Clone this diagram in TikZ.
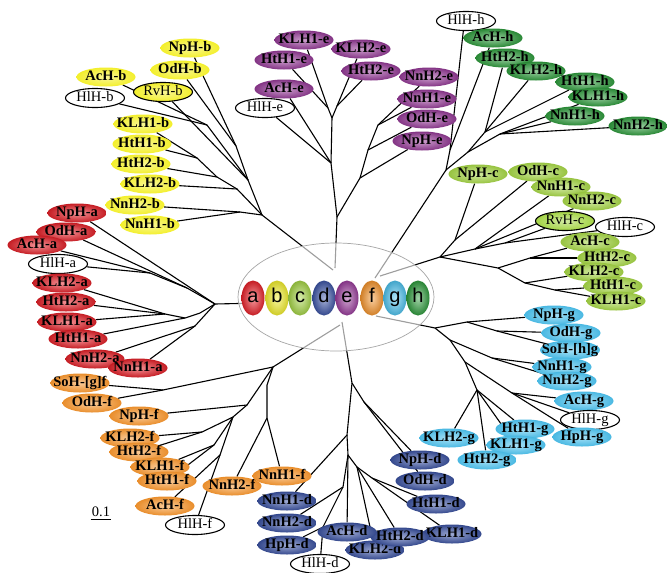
\documentclass[tikz,border=0pt]{standalone}
\usepackage{fontspec}
\setmainfont{Liberation Serif}
\newfontfamily\ballfont{Liberation Sans}
\usetikzlibrary{shapes.geometric}
\pgfdeclarelayer{base}
\pgfdeclarelayer{edges}
\pgfdeclarelayer{mid}
\pgfsetlayers{base,edges,mid,main}
\definecolor{ca}{HTML}{E8222A}
\definecolor{cb}{HTML}{F3EF2C}
\definecolor{cc}{HTML}{A4D445}
\definecolor{cd}{HTML}{3D55A6}
\definecolor{ce}{HTML}{9A3D9C}
\definecolor{cf}{HTML}{F5952E}
\definecolor{cg}{HTML}{4DC2EE}
\definecolor{ch}{HTML}{2F9B3D}
\tikzset{
 lf/.style={shape=ellipse, inner xsep=-7pt, inner ysep=0pt, minimum width=59pt, minimum height=19pt, text height=9.5pt, text depth=2.5pt, font=\fontsize{14.5}{15}\selectfont\bfseries},
 tone/.style 2 args={lf, inner color=#1!50!white, outer color=#1!#2!black},
 la/.style={tone={ca}{85}},
 lb/.style={tone={cb}{100}},
 lc/.style={tone={cc}{92}},
 ld/.style={tone={cd}{85}},
 le/.style={tone={ce}{85}},
 lfo/.style={tone={cf}{95}},
 lg/.style={tone={cg}{95}},
 lh/.style={tone={ch}{88}},
 hl/.style={lf, draw=black, line width=1.1pt, fill=white, font=\fontsize{14.5}{15}\selectfont},
 rv/.style={lf, draw=black, line width=1.1pt, inner color=#1!50!white, outer color=#1, font=\fontsize{14.5}{15}\selectfont},
 br/.style={line width=1.1pt, black},
 ball/.style={shape=ellipse, minimum width=23pt, minimum height=35pt, inner sep=0pt, text height=12pt, text depth=3pt, inner color=#1!45!white, outer color=#1!85!black, font=\ballfont\fontsize{20}{20}\selectfont},
}
\begin{document}
\begin{tikzpicture}[x=1pt,y=-1pt]
\useasboundingbox (0,0) rectangle (667,573);
\begin{pgfonlayer}{base}
\fill[white] (0,0) rectangle (667,573);
\end{pgfonlayer}
% ---------- leaves ----------
% a
\node[la] (NpHa) at (77,213) {NpH-a};
\node[la] (OdHa) at (66,232) {OdH-a};
\node[la] (AcHa) at (37,245) {AcH-a};
\node[hl] (HlHa) at (58,264) {HlH-a};
\node[la] (KLH2a) at (62,283) {KLH2-a};
\node[la] (HtH2a) at (66,302) {HtH2-a};
\node[la] (KLH1a) at (67,322) {KLH1-a};
\node[la] (HtH1a) at (78,339) {HtH1-a};
\node[la] (NnH2a) at (95,359) {NnH2-a};
\node[la] (NnH1a) at (138,368) {NnH1-a};
% b
\node[lb] (NpHb) at (190,48) {NpH-b};
\node[lb] (OdHb) at (180,70) {OdH-b};
\node[lb] (AcHb) at (106,77) {AcH-b};
\node[hl] (HlHb) at (95,98) {HlH-b};
\node[rv=cb] (RvHb) at (163,92) {RvH-b};
\node[lb] (KLH1b) at (143,124) {KLH1-b};
\node[lb] (HtH1b) at (142,144) {HtH1-b};
\node[lb] (HtH2b) at (141,164) {HtH2-b};
\node[lb] (KLH2b) at (150,184) {KLH2-b};
\node[lb] (NnH2b) at (135,205) {NnH2-b};
\node[lb] (NnH1b) at (150,225) {NnH1-b};
% e
\node[le] (KLH1e) at (304,40) {KLH1-e};
\node[le] (HtH1e) at (284,60) {HtH1-e};
\node[le] (KLH2e) at (361,49) {KLH2-e};
\node[le] (HtH2e) at (371,71) {HtH2-e};
\node[le] (AcHe) at (284,89) {AcH-e};
\node[hl] (HlHe) at (265,108) {HlH-e};
\node[le] (NnH2e) at (429,77) {NnH2-e};
\node[le] (NnH1e) at (427,99) {NnH1-e};
\node[le] (OdHe) at (427,119) {OdH-e};
\node[le] (NpHe) at (422,141) {NpH-e};
% h
\node[hl] (HlHh) at (466,21) {HlH-h};
\node[lh] (AcHh) at (493,38) {AcH-h};
\node[lh] (HtH2h) at (505,58) {HtH2-h};
\node[lh] (KLH2h) at (536,71) {KLH2-h};
\node[lh] (HtH1h) at (585,82) {HtH1-h};
\node[lh] (KLH1h) at (598,97) {KLH1-h};
\node[lh] (NnH1h) at (575,116) {NnH1-h};
\node[lh] (NnH2h) at (638,126) {NnH2-h};
% c
\node[lc] (NpHc) at (478,174) {NpH-c};
\node[lc] (OdHc) at (538,172) {OdH-c};
\node[lc] (NnH1c) at (561,187) {NnH1-c};
\node[lc] (NnH2c) at (592,201) {NnH2-c};
\node[rv=cc] (RvHc) at (565,221) {RvH-c};
\node[hl] (HlHc) at (625,227) {HlH-c};
\node[lc] (AcHc) at (590,242) {AcH-c};
\node[lc] (HtH2c) at (607,258) {HtH2-c};
\node[lc] (KLH2c) at (594,272) {KLH2-c};
\node[lc] (HtH1c) at (613,286) {HtH1-c};
\node[lc] (KLH1c) at (616,301) {KLH1-c};
% g
\node[lg] (NpHg) at (554,315) {NpH-g};
\node[lg] (OdHg) at (571,333) {OdH-g};
\node[lg] (SoHg) at (570,350) {SoH-[h]g};
\node[lg] (NnH1g) at (562,367) {NnH1-g};
\node[lg] (NnH2g) at (567,381) {NnH2-g};
\node[lg] (AcHg) at (584,401) {AcH-g};
\node[hl] (HlHg) at (590,420) {HlH-g};
\node[lg] (HpHg) at (582,437) {HpH-g};
\node[lg] (HtH1g) at (525,429) {HtH1-g};
\node[lg] (KLH1g) at (516,445) {KLH1-g};
\node[lg] (KLH2g) at (449,438) {KLH2-g};
\node[lg] (HtH2g) at (487,460) {HtH2-g};
% d
\node[ld] (NpHd) at (420,460) {NpH-d};
\node[ld] (OdHd) at (425,481) {OdH-d};
\node[ld] (HtH1d) at (436,504) {HtH1-d};
\node[ld] (KLH1d) at (452,534) {KLH1-d};
\node[ld] (KLH2d) at (375,550) {KLH2-d};
\node[ld] (HtH2d) at (400,537) {HtH2-d};
\node[ld] (AcHd) at (347,532) {AcH-d};
\node[hl] (HlHd) at (320,564) {HlH-d};
\node[ld] (NnH1d) at (287,501) {NnH1-d};
\node[ld] (NnH2d) at (287,523) {NnH2-d};
\node[ld] (HpHd) at (287,545) {HpH-d};
% f
\node[lfo] (SoHf) at (80,383) {SoH-[g]f};
\node[lfo] (OdHf) at (92,403) {OdH-f};
\node[lfo] (NpHf) at (139,416) {NpH-f};
\node[lfo] (KLH2f) at (130,438) {KLH2-f};
\node[lfo] (HtH2f) at (139,452) {HtH2-f};
\node[lfo] (KLH1f) at (160,467) {KLH1-f};
\node[lfo] (HtH1f) at (167,481) {HtH1-f};
\node[lfo] (AcHf) at (165,506) {AcH-f};
\node[hl] (HlHf) at (195,525) {HlH-f};
\node[lfo] (NnH2f) at (232,486) {NnH2-f};
\node[lfo] (NnH1f) at (282,476) {NnH1-f};
% scale
\node[font=\fontsize{14.5}{15}\selectfont, inner sep=1pt] (scl) at (101,512) {0.1};
\draw[line width=0.8pt] ([yshift=-1.5pt]scl.south west) -- ([yshift=-1.5pt]scl.south east);
% ---------- hub ----------
\begin{pgfonlayer}{mid}
\node[draw=gray!70, line width=0.7pt, fill=white, fill opacity=0.62, draw opacity=1, ellipse, minimum width=196pt, minimum height=108pt, inner sep=0pt] (hub) at (336,297) {};
\end{pgfonlayer}
\node[ball=ca] (ba) at (253,298) {a};
\node[ball=cb] (bb) at (277,298) {b};
\node[ball=cc] (bc) at (300,298) {c};
\node[ball=cd] (bd) at (324,298) {d};
\node[ball=ce] (be) at (347,298) {e};
\node[ball=cf] (bf) at (372,298) {f};
\node[ball=cg] (bg) at (395,298) {g};
\node[ball=ch] (bh) at (418,298) {h};
% ---------- internal points ----------
\coordinate (a0) at (262,303); \coordinate (a1) at (215,304);
\coordinate (aU2) at (187,288); \coordinate (aU3) at (150,273);
\coordinate (aL) at (200,313); \coordinate (aK0) at (185,318);
\coordinate (aK) at (165,314); \coordinate (aN) at (195,326);
\coordinate (b0) at (333,270); \coordinate (b1) at (262,215);
\coordinate (bNn) at (240,212); \coordinate (bK) at (237,189);
\coordinate (bK2) at (217,177); \coordinate (bK3) at (197,158);
\coordinate (bU) at (248,180); \coordinate (bU2) at (236,146);
\coordinate (bA) at (207,125);
\coordinate (e0) at (335,268); \coordinate (e1) at (337,217);
\coordinate (eR) at (360,178); \coordinate (eR2) at (368,150);
\coordinate (eR3) at (378,125); \coordinate (e2) at (331,163);
\coordinate (e3) at (332,118); \coordinate (eK) at (328,108);
\coordinate (eH) at (337,106);
\coordinate (hR) at (375,278); \coordinate (h1) at (446,170);
\coordinate (hA) at (450,150); \coordinate (h2) at (468,152);
\coordinate (hB) at (485,132); \coordinate (h3) at (500,134);
\coordinate (c0) at (380,276); \coordinate (c1) at (440,257);
\coordinate (cU) at (455,240); \coordinate (cN) at (475,249);
\coordinate (cR) at (505,243); \coordinate (cL) at (498,268);
\coordinate (cL1) at (530,258); \coordinate (cL2) at (525,283);
\coordinate (cL3) at (555,290);
\coordinate (g0) at (376,316); \coordinate (g1) at (435,328);
\coordinate (gU) at (467,322); \coordinate (gU2) at (497,331);
\coordinate (g2) at (450,340); \coordinate (gN) at (492,358);
\coordinate (g3) at (465,362); \coordinate (gA) at (512,393);
\coordinate (g4) at (477,390);
\coordinate (d0) at (342,322); \coordinate (d1) at (352,383);
\coordinate (dR) at (364,402); \coordinate (d2) at (347,435);
\coordinate (dM) at (348,455); \coordinate (dLL) at (343,487);
\coordinate (dHp) at (323,527); \coordinate (dM2) at (357,467);
\coordinate (dK) at (372,478);
\coordinate (f0) at (340,325); \coordinate (f1) at (273,367);
\coordinate (fNn) at (267,385); \coordinate (fNn2) at (267,418);
\coordinate (fS) at (163,390); \coordinate (fB) at (247,405);
\coordinate (fC) at (233,417); \coordinate (fK) at (202,432);
\coordinate (fK2) at (214,445); \coordinate (fAH) at (220,455);
% ---------- branches ----------
\begin{pgfonlayer}{edges}
\draw[br] (a0) -- (a1) -- (NpHa);
\draw[br] (a1) -- (aU2) -- (OdHa);
\draw[br] (aU2) -- (aU3) -- (AcHa);
\draw[br] (aU3) -- (HlHa);
\draw[br] (a1) -- (aL) -- (aK0) -- (HtH1a);
\draw[br] (aK0) -- (aK) -- (KLH2a);
\draw[br] (aK) -- (HtH2a);
\draw[br] (aK) -- (KLH1a);
\draw[br] (a1) -- (aN) -- (NnH2a);
\draw[br] (aN) -- (NnH1a);
%
\draw[br] (b0) -- (b1) -- (bNn) -- (NnH2b);
\draw[br] (bNn) -- (NnH1b);
\draw[br] (b1) -- (bK) -- (KLH2b);
\draw[br] (bK) -- (bK2) -- (HtH2b);
\draw[br] (bK2) -- (bK3) -- (HtH1b);
\draw[br] (bK3) -- (KLH1b);
\draw[br] (b1) -- (bU) -- (RvHb);
\draw[br] (bU) -- (bU2) -- (NpHb);
\draw[br] (bU2) -- (OdHb);
\draw[br] (bU) -- (bA) -- (AcHb);
\draw[br] (bA) -- (HlHb);
%
\draw[br] (e0) -- (e1) -- (eR) -- (NpHe);
\draw[br] (eR) -- (eR2) -- (OdHe);
\draw[br] (eR2) -- (eR3) -- (NnH1e);
\draw[br] (eR3) -- (NnH2e);
\draw[br] (e1) -- (e2) -- (AcHe);
\draw[br] (e2) -- (HlHe);
\draw[br] (e2) -- (e3) -- (eK) -- (KLH1e);
\draw[br] (eK) -- (HtH1e);
\draw[br] (e3) -- (eH) -- (KLH2e);
\draw[br] (eH) -- (HtH2e);
%
\draw[br] (hR) -- (h1) -- (hA) -- (HlHh.255);
\draw[br] (hA) -- (AcHh);
\draw[br] (h1) -- (h2) -- (hB) -- (HtH2h);
\draw[br] (hB) -- (KLH2h);
\draw[br] (hB) -- (HtH1h);
\draw[br] (h2) -- (h3) -- (NnH1h);
\draw[br] (h3) -- (NnH2h);
\draw[br] (h3) -- (KLH1h);
%
\draw[br] (c0) -- (c1) -- (cU) -- (NpHc);
\draw[br] (cU) -- (OdHc);
\draw[br] (c1) -- (cN) -- (NnH1c);
\draw[br] (cN) -- (NnH2c);
\draw[br] (cN) -- (cR) -- (RvHc);
\draw[br] (cR) -- (HlHc);
\draw[br] (c1) -- (cL) -- (cL1) -- (AcHc);
\draw[br] (cL1) -- (HtH2c);
\draw[br] (cL) -- (cL2) -- (KLH2c);
\draw[br] (cL2) -- (cL3) -- (HtH1c);
\draw[br] (cL3) -- (KLH1c);
%
\draw[br] (g0) -- (g1) -- (gU) -- (NpHg);
\draw[br] (gU) -- (gU2) -- (OdHg);
\draw[br] (gU2) -- (SoHg);
\draw[br] (g1) -- (g2) -- (gN) -- (NnH1g);
\draw[br] (gN) -- (NnH2g);
\draw[br] (g2) -- (g3) -- (gA) -- (AcHg);
\draw[br] (gA) -- (HlHg);
\draw[br] (gA) -- (HpHg);
\draw[br] (g3) -- (g4) -- (KLH2g);
\draw[br] (g4) -- (HtH2g);
\draw[br] (g4) -- (KLH1g);
\draw[br] (g4) -- (HtH1g);
%
\draw[br] (d0) -- (d1) -- (dR) -- (NpHd);
\draw[br] (dR) -- (OdHd);
\draw[br] (d1) -- (d2) -- (NnH1d);
\draw[br] (d2) -- (dM) -- (AcHd);
\draw[br] (dM) -- (dLL) -- (NnH2d);
\draw[br] (dLL) -- (dHp) -- (HpHd);
\draw[br] (dHp) -- (HlHd);
\draw[br] (dM) -- (dM2) -- (HtH2d);
\draw[br] (dM2) -- (KLH2d);
\draw[br] (dM2) -- (dK) -- (HtH1d);
\draw[br] (dK) -- (KLH1d);
%
\draw[br] (f0) -- (f1) -- (fNn) -- (fNn2) -- (NnH1f);
\draw[br] (fNn2) -- (NnH2f);
\draw[br] (f1) -- (fS) -- (SoHf);
\draw[br] (fS) -- (OdHf);
\draw[br] (f1) -- (fB) -- (NpHf);
\draw[br] (fB) -- (fC) -- (fK) -- (KLH2f);
\draw[br] (fK) -- (HtH2f);
\draw[br] (fC) -- (fK2) -- (KLH1f);
\draw[br] (fK2) -- (HtH1f);
\draw[br] (fC) -- (fAH) -- (AcHf);
\draw[br] (fAH) -- (HlHf);
\end{pgfonlayer}
\end{tikzpicture}
\end{document}
